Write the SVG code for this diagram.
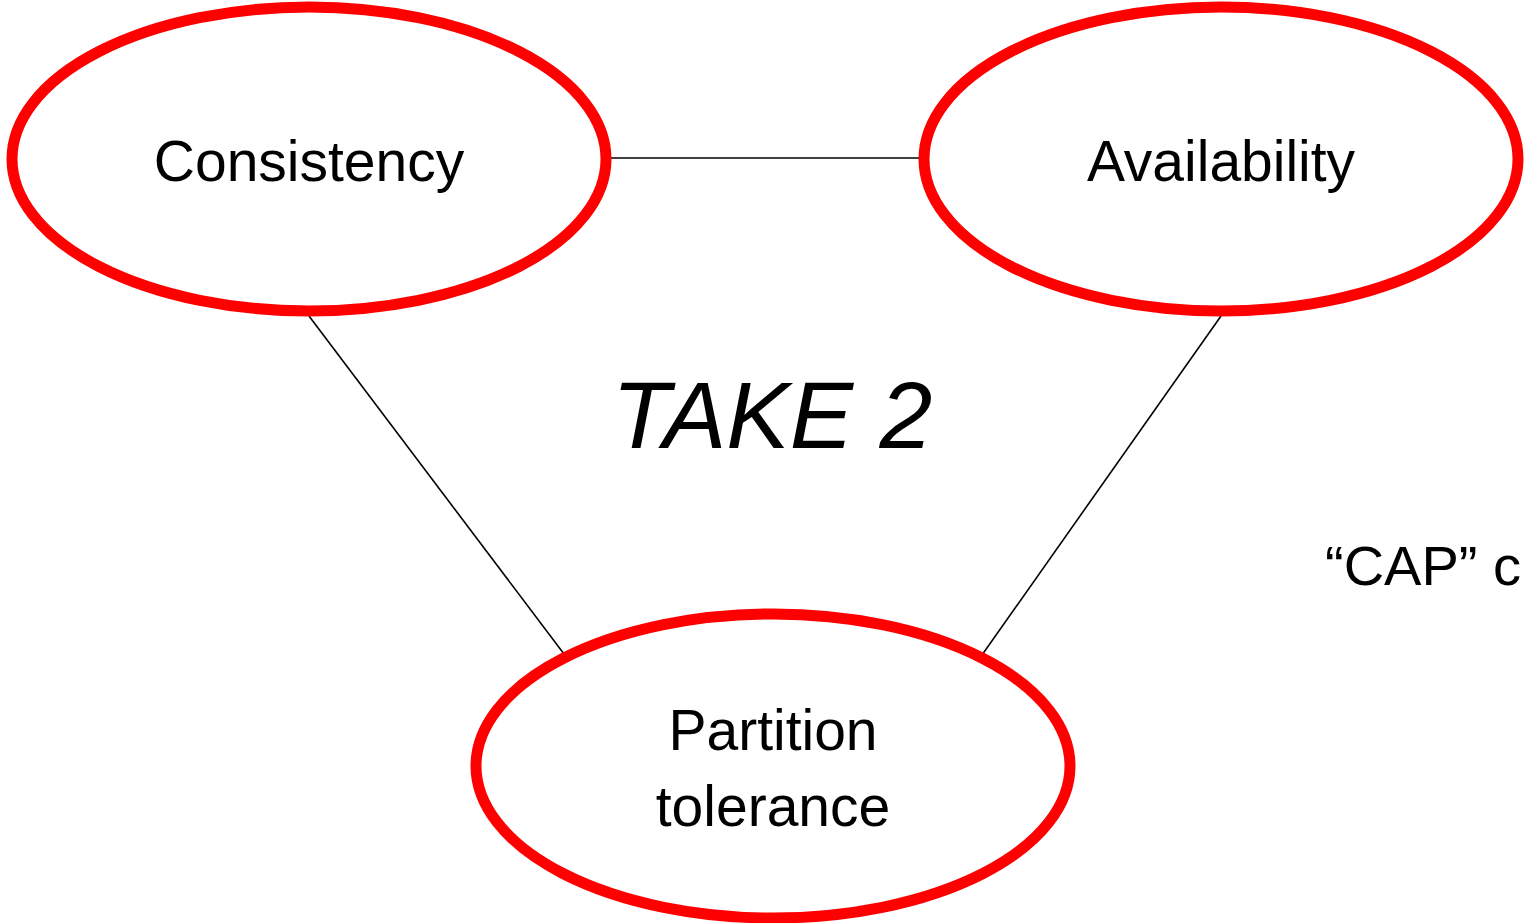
<svg xmlns="http://www.w3.org/2000/svg" width="1525" height="923" viewBox="0 0 1525 923">
<style>
.node ellipse{fill:#fff;stroke:#ff0000;stroke-width:11}
.lbl{font-family:"Liberation Sans",Arial,sans-serif;font-size:57px;fill:#000;text-anchor:middle}
.conn line{stroke:#000;stroke-width:1.6}
</style>
<rect width="1525" height="923" fill="#fff"/>
<g id="connectors" class="conn">
<line x1="609" y1="158" x2="921" y2="158"/>
<line x1="309" y1="316" x2="564" y2="654"/>
<line x1="1221" y1="316" x2="982" y2="655"/>
</g>
<g id="consistency" class="node">
<ellipse cx="309" cy="159" rx="297" ry="152"/>
<text class="lbl" x="309" y="181">Consistency</text>
</g>
<g id="availability" class="node">
<ellipse cx="1221" cy="159" rx="297" ry="152"/>
<text class="lbl" x="1221" y="181">Availability</text>
</g>
<g id="partition" class="node">
<ellipse cx="773" cy="766" rx="297" ry="152"/>
<text class="lbl" x="773" y="750">Partition</text>
<text class="lbl" x="773" y="826">tolerance</text>
</g>
<text x="612" y="448" font-family="'Liberation Sans',Arial,sans-serif" font-style="italic" font-size="95" fill="#000">TAKE 2</text>
<text x="1325" y="585" font-family="'Liberation Sans',Arial,sans-serif" font-size="56" fill="#000">“CAP” c</text>
</svg>
